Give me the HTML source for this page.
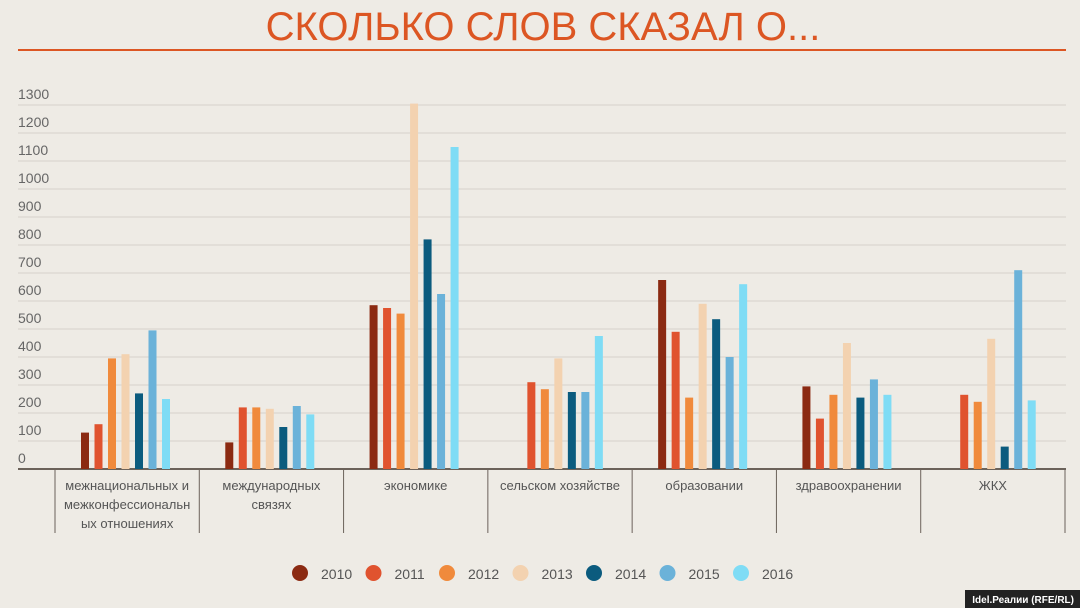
<!DOCTYPE html>
<html><head><meta charset="utf-8"><style>
body{margin:0;background:#eeebe5;font-family:"Liberation Sans","DejaVu Sans",sans-serif;}
#w{position:relative;width:1080px;height:608px;background:#eeebe5;overflow:hidden}
</style></head><body>
<div id="w">
<svg id="c" width="1080" height="608">
<text x="543" y="40" text-anchor="middle" font-size="40" fill="#dc5623" font-family="Liberation Sans, sans-serif">СКОЛЬКО СЛОВ СКАЗАЛ О...</text>
<line x1="18" y1="50" x2="1066" y2="50" stroke="#dc5623" stroke-width="2"/>
<rect x="965" y="590" width="115" height="18" fill="#222"/>
<text x="1074" y="603" text-anchor="end" font-size="10" font-weight="bold" fill="#fff">Idel.Реалии (RFE/RL)</text>
</svg>
</div>
<script>
const categories=["межнациональных и|межконфессиональн|ых отношениях","международных|связях","экономике","сельском хозяйстве","образовании","здравоохранении","ЖКХ"];
const years=["2010","2011","2012","2013","2014","2015","2016"];
const colors=["#8b2a12","#e0532f","#f08a3c","#f3d2b0","#0b5b7e","#6bb2d9","#7fdcf5"];
const s2010=[130,95,585,0,675,295,0];
const s2011=[160,220,575,310,490,180,265];
const s2012=[395,220,555,285,255,265,240];
const s2013=[410,215,1305,395,590,450,465];
const s2014=[270,150,820,275,535,255,80];
const s2015=[495,225,625,275,400,320,710];
const s2016=[250,195,1150,475,660,265,245];
const series=[s2010,s2011,s2012,s2013,s2014,s2015,s2016];
const yTicks=[0,100,200,300,400,500,600,700,800,900,1000,1100,1200,1300];
const NS="http://www.w3.org/2000/svg",svg=document.getElementById('c');
const x0=55,x1=1065,gw=(x1-x0)/categories.length;
const y=v=>469-v*0.28;
function mk(t,a,txt){const e=document.createElementNS(NS,t);for(const k in a)e.setAttribute(k,a[k]);if(txt!==undefined)e.textContent=txt;svg.appendChild(e);return e;}
yTicks.forEach(v=>{
 if(v>0){const l=mk('line',{x1:18,x2:1066,y1:y(v),y2:y(v),stroke:'#d5d2cc','stroke-width':1});
 
 }
 const t=mk('text',{x:18,y:y(v)-6,'font-size':14,fill:'#666'},String(v));
 
 
});
const ax=mk('line',{x1:18,x2:1066,y1:469,y2:469,stroke:'#6b625a','stroke-width':2});


for(let i=0;i<=categories.length;i++){
 const l=mk('line',{x1:x0+i*gw,x2:x0+i*gw,y1:469,y2:533,stroke:'#6b625a','stroke-width':1});
 
 
}
categories.forEach((c,i)=>{
 c.split('|').forEach((ln,j)=>{
  const t=mk('text',{x:x0+i*gw+gw/2,y:490+j*19,'text-anchor':'middle','font-size':13,fill:'#555'},ln);
  
  
 });
 series.forEach((s,k)=>{
  const v=s[i];if(!v)return;
  const bx=x0+i*gw+26+k*13.5;
  const r=mk('rect',{x:bx,y:y(v),width:8,height:469-y(v),fill:colors[k]});
  
  
 });
});
years.forEach((yr,k)=>{
 const cx=300+k*73.5;
 const c=mk('circle',{cx:cx,cy:573,r:8,fill:colors[k]});
 
 
 const t=mk('text',{x:cx+21,y:579,'font-size':14,fill:'#555'},yr);
 
 
});
</script>
</body></html>
